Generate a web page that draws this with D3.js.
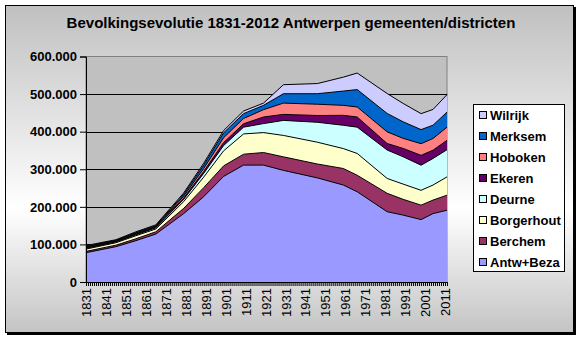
<!DOCTYPE html>
<html>
<head>
<meta charset="utf-8">
<script src="https://cdn.jsdelivr.net/npm/d3@7/dist/d3.min.js"></script>
<style>
  html, body { margin: 0; padding: 0; background: #ffffff; }
  svg { display: block; }
  text { font-family: "Liberation Sans", Arial, sans-serif; font-weight: bold; }
</style>
</head>
<body>
<svg id="chart" width="580" height="338"></svg>
<script>
// ---- data ----
const years = [1831, 1846, 1856, 1866, 1880, 1890, 1900, 1910, 1920, 1930, 1947, 1960, 1967, 1982, 1990, 1999, 2005, 2012];
const antwBeza   = [78000, 94000, 110000, 127500, 182000, 227000, 281000, 311000, 311000, 297000, 277000, 258000, 240000, 187000, 178000, 166000, 182000, 191000];
const berchem    = [3500, 4000, 5000, 6000, 14000, 24000, 28000, 29000, 33500, 36000, 37000, 44000, 44000, 49000, 42000, 38500, 36000, 40000];
const borgerhout = [6000, 6500, 8000, 7500, 18000, 28000, 40000, 54000, 53000, 57000, 58000, 53000, 58000, 39500, 40500, 39500, 40000, 48700];
const deurne     = [2000, 2000, 2500, 3000, 6000, 10000, 14000, 18000, 24000, 40000, 53000, 62000, 70000, 75600, 72800, 66800, 70700, 72300];
const ekeren     = [2000, 1500, 2000, 2000, 3500, 5000, 8000, 9000, 17500, 16000, 18000, 26500, 27000, 17400, 22200, 26200, 22100, 25000];
const hoboken    = [2000, 1500, 2000, 2000, 5000, 8000, 13000, 14000, 19600, 30000, 30000, 26500, 26600, 31000, 26700, 31000, 31100, 35000];
const merksem    = [1700, 1500, 2000, 2000, 5000, 9000, 13000, 13000, 11400, 25000, 28000, 38000, 46400, 49000, 44100, 37500, 35300, 40000];
const wilrijk    = [1800, 1500, 2000, 2000, 3500, 5000, 6000, 7000, 6000, 24000, 27000, 37000, 44000, 53000, 48800, 42500, 42000, 46500];

const seriesNames  = ["Antw+Beza", "Berchem", "Borgerhout", "Deurne", "Ekeren", "Hoboken", "Merksem", "Wilrijk"];
const seriesValues = [antwBeza, berchem, borgerhout, deurne, ekeren, hoboken, merksem, wilrijk];
const seriesColors = ["#9999FF", "#993366", "#FFFFCC", "#CCFFFF", "#660066", "#FF8080", "#0066CC", "#CCCCFF"];
const yTicks = [0, 100000, 200000, 300000, 400000, 500000, 600000];
const xLabelYears = d3.range(1831, 2012, 10);
const title = "Bevolkingsevolutie 1831-2012 Antwerpen gemeenten/districten";

// ---- build table ----
const table = years.map((y, i) => {
  const row = { year: y };
  seriesNames.forEach((n, k) => { row[n] = seriesValues[k][i]; });
  return row;
});

const svg = d3.select("#chart");

// background gradient
const defs = svg.append("defs");
const grad = defs.append("linearGradient").attr("id", "bg").attr("x1", 0).attr("y1", 0).attr("x2", 0).attr("y2", 1);
grad.append("stop").attr("offset", "0%").attr("stop-color", "#c0c0c0");
grad.append("stop").attr("offset", "62%").attr("stop-color", "#ffffff");
grad.append("stop").attr("offset", "100%").attr("stop-color", "#c4c4c4");

// shadow + chart area
svg.append("rect").attr("x", 7).attr("y", 7).attr("width", 569).attr("height", 328).attr("fill", "#000");
svg.append("rect").attr("x", 5.5).attr("y", 5.5).attr("width", 568).attr("height", 327)
  .attr("fill", "url(#bg)").attr("stroke", "#000").attr("stroke-width", 1);

// title
svg.append("text").attr("x", 291).attr("y", 28).attr("text-anchor", "middle")
  .attr("font-size", 15).attr("fill", "#000").text(title);

// scales
const x = d3.scaleLinear().domain([1831, 2012]).range([86, 447]);
const y = d3.scaleLinear().domain([0, 600000]).range([282, 56.5]);

// plot area
svg.append("rect").attr("x", x(1831)).attr("y", y(600000)).attr("width", x(2012) - x(1831))
  .attr("height", y(0) - y(600000)).attr("fill", "#c0c0c0").attr("stroke", "#808080").attr("stroke-width", 1);

// gridlines
svg.append("g").selectAll("line").data(yTicks.filter(t => t > 0 && t < 600000)).join("line")
  .attr("x1", x(1831)).attr("x2", x(2012))
  .attr("y1", d => Math.round(y(d)) + 0.5).attr("y2", d => Math.round(y(d)) + 0.5)
  .attr("stroke", "#000").attr("stroke-width", 1);

// stacked areas
const stack = d3.stack().keys(seriesNames);
const stacked = stack(table);
const area = d3.area().x(d => x(d.data.year)).y0(d => y(d[0])).y1(d => y(d[1]));
const line = d3.line().x(d => x(d.data.year)).y(d => y(d[1]));

svg.append("g").selectAll("path").data(stacked).join("path")
  .attr("d", area).attr("fill", (d, i) => seriesColors[i]);
svg.append("g").selectAll("path").data(stacked).join("path")
  .attr("d", line).attr("fill", "none").attr("stroke", "#000").attr("stroke-width", 1);

// y axis
const yAxis = d3.axisLeft(y).tickValues(yTicks).tickSize(6).tickPadding(3)
  .tickFormat(d => d3.format(",")(d).replace(/,/g, "."));
const gy = svg.append("g").attr("transform", `translate(${x(1831)},0)`).call(yAxis);
gy.select(".domain").attr("stroke", "#000");
gy.selectAll("text").attr("font-size", 13).attr("fill", "#000")
  .style("font-family", '"Liberation Sans", Arial, sans-serif').style("font-weight", "bold");

// x axis
const xAxis = d3.axisBottom(x).tickValues(d3.range(1831, 2013)).tickSize(4)
  .tickFormat(d => xLabelYears.includes(d) ? String(d) : "");
const gx = svg.append("g").attr("transform", `translate(0,${y(0)})`).call(xAxis);
gx.select(".domain").attr("stroke", "#000");
gx.selectAll(".tick line").attr("stroke", "#000");
gx.selectAll("text").attr("font-size", 13).attr("fill", "#000")
  .style("font-family", '"Liberation Sans", Arial, sans-serif').style("font-weight", "normal")
  .attr("transform", "rotate(-90)").attr("text-anchor", "end")
  .attr("x", -6).attr("y", 0).attr("dy", "0.35em");

// legend
const lg = svg.append("g");
lg.append("rect").attr("x", 473.5).attr("y", 104.5).attr("width", 91).attr("height", 167)
  .attr("fill", "#fff").attr("stroke", "#000");
const legendOrder = seriesNames.map((n, i) => i).reverse();
legendOrder.forEach((si, j) => {
  const cy = 115 + j * 21;
  lg.append("rect").attr("x", 479.5).attr("y", cy - 3.5).attr("width", 7).attr("height", 7)
    .attr("fill", seriesColors[si]).attr("stroke", "#000");
  lg.append("text").attr("x", 490).attr("y", cy + 4.5).attr("font-size", 13).attr("fill", "#000")
    .text(seriesNames[si]);
});
</script>
</body>
</html>
